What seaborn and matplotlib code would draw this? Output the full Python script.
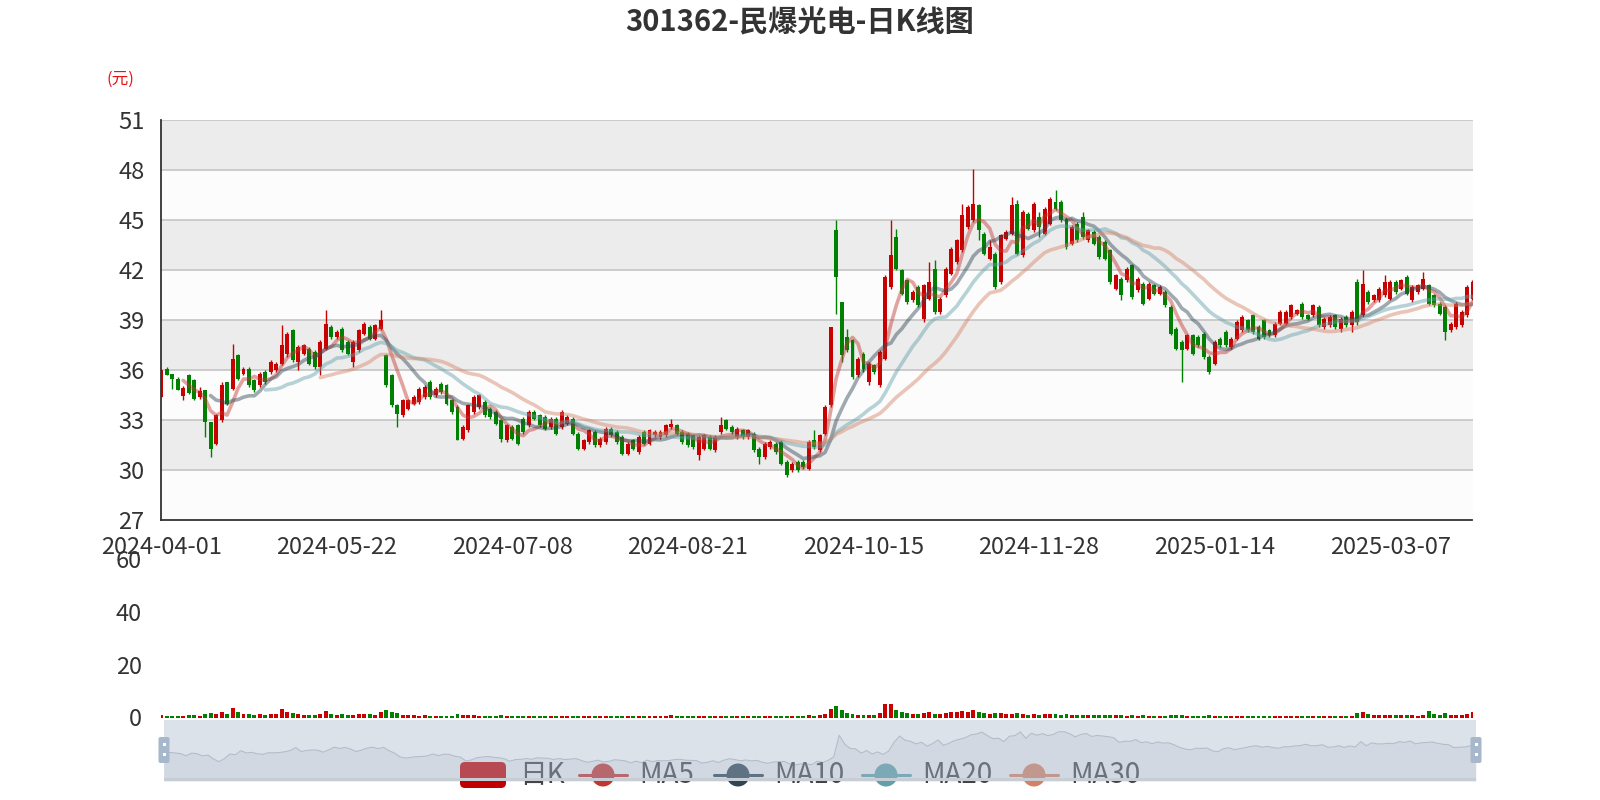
import numpy as np
import pandas as pd
import matplotlib
matplotlib.use("Agg")
import matplotlib.pyplot as plt
from matplotlib.patches import FancyBboxPatch, Rectangle, Circle
import seaborn as sns

sns.set_style("white")
plt.rcParams['font.family'] = ['Noto Sans CJK SC', 'DejaVu Sans']

# trading calendar (A-share holidays removed)
HOLIDAYS = ["2024-04-04", "2024-04-05", "2024-05-01", "2024-05-02", "2024-05-03",
            "2024-06-10", "2024-09-16", "2024-09-17", "2024-10-01", "2024-10-02",
            "2024-10-03", "2024-10-04", "2024-10-07", "2025-01-01", "2025-01-28",
            "2025-01-29", "2025-01-30", "2025-01-31", "2025-02-03", "2025-02-04"]
days = pd.bdate_range("2024-04-01", "2025-03-28")
dates = [d.strftime("%Y-%m-%d") for d in days if d.strftime("%Y-%m-%d") not in HOLIDAYS]

opens = [34.4, 36.1, 35.8, 35.5, 34.45, 35.7, 35.45, 34.4, 34.8, 32.9,
         31.6, 33.0, 35.3, 34.9, 36.9, 35.8, 36.1, 35.4, 35.1, 35.9,
         35.9, 36.0, 36.4, 37.0, 38.4, 36.5, 37.0, 37.3, 37.1, 36.2,
         37.3, 38.6, 38.0, 38.5, 37.7, 36.5, 37.2, 38.2, 38.6, 37.9,
         38.5, 36.9, 35.7, 33.9, 33.3, 33.7, 34.0, 34.1, 34.4, 35.3,
         34.5, 35.2, 35.1, 34.2, 33.8, 31.9, 32.4, 33.5, 33.8, 34.1,
         33.7, 33.5, 33.0, 31.8, 32.6, 32.7, 33.1, 32.7, 33.5, 33.3,
         33.2, 32.6, 33.1, 32.6, 32.8, 33.1, 32.2, 31.3, 31.7, 32.3,
         31.5, 31.7, 32.5, 32.3, 32.0, 31.0, 31.8, 31.1, 32.3, 31.6,
         32.1, 32.0, 32.1, 32.6, 32.7, 32.3, 32.2, 32.1, 30.9, 31.3,
         32.0, 31.2, 32.3, 33.0, 32.6, 32.0, 32.4, 32.0, 32.2, 31.3,
         30.8, 31.4, 31.6, 31.7, 30.5, 30.0, 30.5, 30.5, 30.1, 31.8,
         31.2, 32.2, 33.9, 44.4, 40.1, 38.0, 37.8, 35.7, 37.0, 35.3,
         36.3, 35.1, 36.7, 41.0, 44.0, 42.0, 41.4, 40.2, 41.0, 39.1,
         40.3, 42.1, 39.5, 40.5, 41.8, 42.5, 43.2, 44.6, 45.0, 45.9,
         44.2, 42.7, 43.0, 41.3, 43.9, 44.2, 46.0, 42.9, 45.4, 44.4,
         45.2, 44.2, 44.8, 46.1, 46.1, 45.1, 43.6, 44.8, 45.2, 43.8,
         44.3, 44.0, 43.7, 43.2, 40.9, 41.5, 41.4, 42.3, 40.8, 41.2,
         40.3, 41.1, 40.6, 40.7, 39.8, 38.5, 37.7, 37.3, 38.1, 38.0,
         38.2, 36.8, 36.4, 37.9, 38.3, 37.4, 37.9, 38.4, 39.0, 39.3,
         38.6, 39.0, 38.4, 38.1, 38.8, 38.8, 39.2, 39.4, 40.0, 39.3,
         39.3, 39.8, 38.6, 38.7, 39.3, 38.5, 39.2, 38.7, 41.3, 39.3,
         40.7, 40.2, 40.2, 40.5, 40.3, 41.3, 40.9, 41.6, 40.2, 40.7,
         40.9, 41.1, 40.5, 40.0, 39.8, 38.4, 38.6, 38.7, 39.3, 40.3]

closes = [36.0, 35.75, 35.5, 34.8, 34.95, 34.65, 34.3, 34.75, 32.9, 31.3,
          33.3, 35.1, 34.0, 36.7, 35.5, 36.1, 35.1, 34.8, 35.8, 35.3,
          36.5, 36.4, 37.5, 38.2, 36.6, 37.4, 37.5, 36.4, 36.2, 37.7,
          38.8, 38.0, 38.3, 37.2, 37.0, 37.7, 38.4, 38.8, 37.9, 38.7,
          39.0, 35.1, 33.9, 33.4, 34.2, 34.2, 34.4, 34.9, 35.0, 34.4,
          34.9, 34.7, 34.0, 33.5, 31.8, 32.6, 33.9, 34.4, 34.5, 33.3,
          33.2, 32.8, 31.9, 32.7, 31.9, 31.6, 32.3, 33.5, 33.1, 32.7,
          32.5, 33.1, 32.2, 33.5, 33.2, 32.2, 31.3, 31.8, 32.4, 31.5,
          31.9, 32.5, 32.1, 31.7, 31.0, 31.6, 31.3, 32.0, 31.6, 32.4,
          32.3, 32.3, 32.7, 32.8, 32.2, 31.7, 31.5, 31.4, 32.0, 32.1,
          31.3, 32.0, 32.7, 32.5, 32.3, 32.5, 32.0, 32.4, 31.2, 30.8,
          31.6, 31.7, 31.1, 30.4, 29.7, 30.4, 30.0, 30.2, 31.7, 31.4,
          32.1, 33.8, 38.6, 41.6, 36.9, 37.2, 35.6, 36.7, 36.1, 36.4,
          35.9, 37.1, 41.6, 42.9, 42.1, 40.6, 40.1, 40.7, 39.9, 41.1,
          41.3, 39.5, 40.3, 42.1, 43.3, 43.8, 45.3, 45.8, 46.0, 44.4,
          43.0, 43.4, 41.0, 44.1, 44.3, 45.9, 43.0, 45.5, 44.5, 46.0,
          44.6, 45.7, 46.3, 45.7, 45.0, 43.4, 44.6, 43.8, 44.0, 44.4,
          43.6, 42.8, 42.7, 41.3, 41.7, 40.5, 42.1, 40.4, 41.5, 40.0,
          41.2, 40.6, 41.0, 39.9, 38.2, 37.3, 37.2, 38.1, 37.0, 37.5,
          36.8, 35.9, 37.7, 37.5, 37.5, 37.9, 38.9, 39.2, 38.4, 38.3,
          37.9, 38.0, 38.1, 38.8, 39.5, 39.5, 39.9, 39.6, 39.2, 39.1,
          39.9, 38.7, 39.1, 39.2, 38.6, 39.1, 38.7, 39.5, 38.9, 41.2,
          40.1, 40.5, 40.9, 41.3, 41.3, 40.7, 41.4, 40.6, 41.0, 41.1,
          41.5, 40.0, 39.9, 39.4, 38.3, 38.8, 40.0, 39.5, 41.0, 41.3]

highs = [36.1, 36.2, 35.8, 35.6, 35.05, 35.8, 35.5, 35.0, 34.8, 32.9,
         33.4, 35.3, 35.3, 37.6, 37.0, 36.2, 36.2, 35.5, 35.9, 36.0,
         36.6, 36.5, 38.7, 38.3, 38.5, 37.5, 37.6, 37.4, 37.2, 37.8,
         39.6, 38.7, 38.4, 38.6, 37.8, 37.8, 38.5, 38.9, 38.7, 38.8,
         39.6, 37.0, 35.8, 34.0, 34.3, 34.3, 34.5, 35.0, 35.1, 35.4,
         35.0, 35.3, 35.2, 34.3, 33.9, 32.7, 34.0, 34.5, 34.6, 34.2,
         33.8, 33.6, 33.1, 32.8, 32.7, 32.8, 33.2, 33.6, 33.6, 33.4,
         33.3, 33.2, 33.2, 33.6, 33.3, 33.2, 32.3, 31.9, 32.5, 32.4,
         32.0, 32.6, 32.6, 32.4, 32.1, 31.7, 31.9, 32.1, 32.4, 32.5,
         32.4, 32.4, 32.8, 33.1, 32.8, 32.4, 32.3, 32.2, 32.1, 32.2,
         32.1, 32.1, 33.2, 33.1, 32.7, 32.6, 32.5, 32.5, 32.3, 31.4,
         31.7, 31.8, 31.7, 31.8, 30.6, 30.5, 30.6, 30.6, 31.8, 32.4,
         32.2, 33.9, 38.6, 45.0, 40.1, 38.5, 37.9, 36.8, 37.1, 36.5,
         36.4, 37.2, 41.7, 45.0, 44.5, 42.1, 41.5, 40.8, 41.1, 41.2,
         42.5, 42.6, 40.4, 42.2, 43.4, 43.9, 46.0, 45.9, 48.1, 46.0,
         44.3, 43.8, 43.1, 44.2, 44.4, 46.4, 46.2, 45.6, 45.5, 46.1,
         45.5, 45.8, 46.4, 46.8, 46.2, 45.2, 44.7, 44.9, 45.5, 44.5,
         44.4, 44.1, 43.8, 43.3, 41.8, 41.6, 42.2, 42.4, 41.6, 41.3,
         41.3, 41.2, 41.1, 40.8, 39.9, 38.6, 37.8, 38.2, 38.2, 38.1,
         38.3, 36.9, 37.8, 38.0, 38.4, 38.0, 39.0, 39.3, 39.1, 39.4,
         38.7, 39.1, 38.5, 38.9, 39.6, 39.6, 40.0, 39.7, 40.1, 39.4,
         40.0, 39.9, 39.2, 39.3, 39.4, 39.2, 39.3, 39.6, 41.5, 42.0,
         40.8, 40.6, 41.0, 41.7, 41.4, 41.4, 41.5, 41.7, 41.1, 41.2,
         41.9, 41.2, 40.6, 40.1, 39.9, 38.9, 40.1, 39.6, 41.1, 41.4]

lows = [34.4, 35.7, 34.9, 34.8, 34.2, 34.6, 34.2, 34.3, 32.0, 30.8,
        31.5, 32.9, 33.9, 34.8, 35.4, 35.7, 35.0, 34.7, 35.0, 35.2,
        35.8, 35.9, 36.3, 36.8, 36.5, 36.0, 36.9, 36.3, 36.1, 35.7,
        37.2, 37.9, 37.9, 37.1, 36.9, 36.2, 37.1, 38.1, 37.8, 37.8,
        38.4, 35.0, 33.8, 32.6, 33.2, 33.6, 33.9, 34.0, 34.3, 34.3,
        34.4, 34.6, 33.9, 33.4, 31.8, 31.8, 32.3, 33.4, 33.7, 33.2,
        33.1, 32.7, 31.7, 31.7, 31.8, 31.5, 32.2, 32.6, 33.0, 32.6,
        32.4, 32.5, 32.1, 32.5, 32.7, 32.1, 31.2, 31.2, 31.6, 31.4,
        31.4, 31.6, 32.0, 31.6, 30.9, 30.9, 31.2, 31.0, 31.5, 31.5,
        32.0, 31.9, 32.0, 32.5, 32.1, 31.6, 31.4, 31.3, 30.6, 31.2,
        31.2, 31.1, 32.2, 32.4, 32.2, 31.9, 31.9, 31.9, 31.1, 30.4,
        30.7, 31.3, 31.0, 30.3, 29.6, 29.9, 29.9, 30.1, 30.0, 31.3,
        31.1, 32.1, 33.8, 39.4, 36.5, 37.1, 35.5, 35.6, 35.9, 35.1,
        35.8, 35.0, 36.6, 40.9, 42.0, 40.5, 40.0, 40.1, 39.8, 38.9,
        40.2, 39.4, 39.4, 40.4, 41.7, 42.4, 43.1, 44.5, 44.9, 43.8,
        42.9, 42.6, 40.9, 41.2, 43.8, 44.1, 42.9, 42.8, 44.4, 44.3,
        44.0, 44.1, 44.7, 45.6, 44.9, 43.3, 43.5, 43.7, 43.9, 43.7,
        43.5, 42.7, 42.6, 41.2, 40.8, 40.2, 41.3, 40.3, 40.7, 39.9,
        40.2, 40.5, 40.5, 39.8, 38.1, 37.2, 35.3, 37.2, 36.9, 37.4,
        36.7, 35.8, 36.3, 37.4, 37.4, 37.3, 37.8, 38.3, 38.3, 38.2,
        37.8, 37.9, 38.0, 38.0, 38.7, 38.7, 39.1, 39.3, 39.1, 39.0,
        39.2, 38.6, 38.5, 38.6, 38.5, 38.3, 38.6, 38.3, 38.7, 39.2,
        40.0, 40.1, 40.1, 40.4, 40.2, 40.6, 40.8, 40.5, 40.1, 40.6,
        40.8, 39.9, 39.8, 39.3, 37.8, 38.3, 38.5, 38.6, 39.2, 40.2]

volumes = [0.8, 0.6, 0.6, 0.5, 0.7, 0.9, 0.9, 0.7, 1.5, 1.8,
           1.3, 2.0, 1.2, 3.5, 2.0, 1.5, 1.4, 1.1, 1.3, 0.9,
           1.2, 1.5, 3.4, 2.2, 1.6, 1.3, 1.0, 0.9, 1.1, 1.4,
           2.6, 1.4, 1.0, 1.2, 0.9, 1.1, 1.4, 1.3, 1.2, 1.1,
           1.9, 2.7, 2.0, 1.6, 1.0, 0.8, 0.8, 0.7, 0.8, 0.7,
           0.6, 0.6, 0.7, 0.6, 1.2, 0.8, 0.9, 0.8, 0.7, 0.6,
           0.5, 0.5, 0.8, 0.6, 0.5, 0.6, 0.5, 0.6, 0.5, 0.4,
           0.4, 0.4, 0.5, 0.5, 0.4, 0.4, 0.6, 0.4, 0.5, 0.5,
           0.4, 0.5, 0.4, 0.4, 0.5, 0.4, 0.4, 0.5, 0.4, 0.5,
           0.4, 0.4, 0.5, 0.8, 0.5, 0.4, 0.4, 0.4, 0.6, 0.5,
           0.4, 0.5, 0.7, 0.6, 0.4, 0.4, 0.4, 0.4, 0.5, 0.5,
           0.5, 0.4, 0.4, 0.6, 0.7, 0.4, 0.4, 0.4, 0.9, 0.6,
           0.8, 1.5, 3.4, 4.5, 3.0, 1.8, 1.5, 1.0, 1.0, 0.9,
           0.8, 1.6, 5.0, 5.3, 3.0, 2.0, 1.7, 1.5, 1.5, 1.6,
           2.0, 1.5, 1.4, 1.8, 2.2, 2.0, 2.6, 2.2, 2.8, 2.0,
           1.6, 1.4, 1.6, 1.7, 1.2, 1.5, 1.6, 1.4, 1.1, 1.3,
           1.1, 1.2, 1.4, 1.2, 1.1, 1.3, 1.0, 0.9, 1.0, 0.8,
           0.8, 0.9, 0.8, 1.0, 0.8, 0.8, 0.7, 0.9, 0.7, 0.8,
           0.7, 0.6, 0.6, 0.7, 0.9, 0.8, 0.9, 0.7, 0.7, 0.6,
           0.7, 0.8, 0.7, 0.6, 0.6, 0.5, 0.7, 0.6, 0.6, 0.6,
           0.5, 0.6, 0.5, 0.6, 0.7, 0.6, 0.7, 0.5, 0.6, 0.5,
           0.6, 0.6, 0.5, 0.5, 0.5, 0.5, 0.5, 0.6, 1.8, 2.2,
           1.2, 0.9, 0.9, 1.1, 1.0, 0.8, 0.8, 0.9, 0.8, 0.7,
           1.1, 2.3, 1.4, 1.0, 1.6, 0.8, 0.9, 0.8, 1.2, 2.0]

ma_windows = [5, 10, 20, 30]
ma_colors = ['#c23531', '#2f4554', '#61a0a8', '#d48265']
ma_names = ['MA5', 'MA10', 'MA20', 'MA30']
UP, DOWN = '#c80000', '#008000'

df = pd.DataFrame({'date': dates[:len(closes)], 'open': opens, 'close': closes,
                   'high': highs, 'low': lows, 'vol': volumes})
df['idx'] = np.arange(len(df))
df['up'] = df['close'] >= df['open']
for w, n in zip(ma_windows, ma_names):
    df[n] = df['close'].rolling(w).mean()

W, H = 1600, 800
fig = plt.figure(figsize=(16, 8), dpi=100)
L, R = 161.2, 1472.5
TICK_FS = 17


def box(x0, y0, x1, y1):
    return [x0 / W, 1 - y1 / H, (x1 - x0) / W, (y1 - y0) / H]


# ---- price panel
ax = fig.add_axes(box(L, 120.4, R, 520.4))
ax.set_xlim(0, len(df) - 1)
ax.set_ylim(27, 51)
for k, lo in enumerate(range(27, 51, 3)):
    ax.axhspan(lo, lo + 3, color='#fcfcfc' if k % 2 == 0 else '#ececec', zorder=0, lw=0)
for v in range(30, 52, 3):
    ax.axhline(v, color='#c8c8c8', lw=1.3, zorder=1)

colors = np.where(df['up'], UP, DOWN)
ax.vlines(df['idx'], df['low'], df['high'], colors=colors, lw=1.0, zorder=3)
body_lo = np.minimum(df['open'], df['close'])
body_h = np.maximum(np.abs(df['close'] - df['open']), 0.06)
ax.bar(df['idx'], body_h, bottom=body_lo, width=0.72, color=colors, lw=0, zorder=3)

for n, c in zip(ma_names, ma_colors):
    sns.lineplot(data=df, x='idx', y=n, ax=ax, color=c, lw=2.6, alpha=0.45, zorder=4)

ax.set_xlabel('')
ax.set_ylabel('')
ax.set_yticks(range(27, 52, 3))
ticks = list(range(0, len(df), 32))
ax.set_xticks(ticks)
ax.set_xticklabels([df['date'][t] for t in ticks])
ax.set_xticks([len(df) - 1], minor=True)
ax.tick_params(axis='both', which='both', labelsize=TICK_FS, length=6, width=1.2,
               color='#333333', labelcolor='#333333', direction='out')
ax.tick_params(axis='y', length=7, pad=5)
ax.tick_params(axis='x', pad=5)
for s in ['top', 'right']:
    ax.spines[s].set_visible(False)
for s in ['left', 'bottom']:
    ax.spines[s].set_color('#333333')
    ax.spines[s].set_linewidth(1.3)
ax.spines['left'].set_zorder(5)

# ---- volume panel
vax = fig.add_axes(box(L, 559.2, R, 717.5))
vax.set_xlim(0, len(df) - 1)
vax.set_ylim(0, 60)
vax.bar(df['idx'], df['vol'], width=0.72, color=colors, lw=0)
vax.set_yticks([0, 20, 40, 60])
vax.set_xticks([])
vax.tick_params(axis='y', labelsize=TICK_FS, length=0, labelcolor='#333333', pad=14)
for s in vax.spines.values():
    s.set_visible(False)
vax.patch.set_alpha(0)

# ---- slider (data zoom)
sax = fig.add_axes(box(164, 720.4, 1476, 780.6))
sax.set_xlim(0, len(df) - 1)
sax.set_ylim(22.4, 51.6)
sax.fill_between(df['idx'], 0, df['open'], color='#efeff1', lw=0)
sns.lineplot(data=df, x='idx', y='open', ax=sax, color='#bcc0c7', lw=0.8)
sax.set_axis_off()

# ---- overlay: legend + slider filler
ov = fig.add_axes([0, 0, 1, 1])
ov.set_xlim(0, W)
ov.set_ylim(H, 0)
ov.set_axis_off()
ov.patch.set_alpha(0)

ly = 775
ov.add_patch(FancyBboxPatch((460, 762), 46, 26, boxstyle='round,pad=0,rounding_size=5',
                            color='#c00000', lw=0, zorder=2))
ov.text(519, ly, '日K', fontsize=20, color='#444444', va='center', ha='left', zorder=2)
for x0, n, c in zip([579, 714, 862, 1010], ma_names, ma_colors):
    ov.plot([x0, x0 + 48], [ly, ly], color=c, lw=2.2, zorder=2)
    ov.add_patch(Circle((x0 + 24, ly), 11.5, color=c, lw=0, zorder=2))
    ov.text(x0 + 60, ly, n, fontsize=20, color='#444444', va='center', ha='left', zorder=2)

ov.add_patch(Rectangle((164, 777.5), 1312, 3.1, color='#dcdcdc', lw=0, zorder=2.5))
ov.add_patch(Rectangle((164, 720.4), 1312, 60.2, color='#a7b7cc', alpha=0.4, lw=0, zorder=3))
for hx in [164, 1476]:
    ov.add_patch(FancyBboxPatch((hx - 5.5, 737), 11, 26, boxstyle='round,pad=0,rounding_size=2',
                                color='#a7b7cc', lw=0, zorder=4))
    for hy in [743, 753]:
        ov.add_patch(Rectangle((hx - 1.5, hy), 3, 3, color='white', lw=0, zorder=5))

fig.text(0.5, 1 - 23 / H, '301362-民爆光电-日K线图', fontsize=21, fontweight='bold',
         color='#333333', ha='center', va='center')
fig.text(120 / W, 1 - 79 / H, '(元)', fontsize=12, color='#ee1111', ha='center', va='center')

fig.savefig('out.png', dpi=100)
